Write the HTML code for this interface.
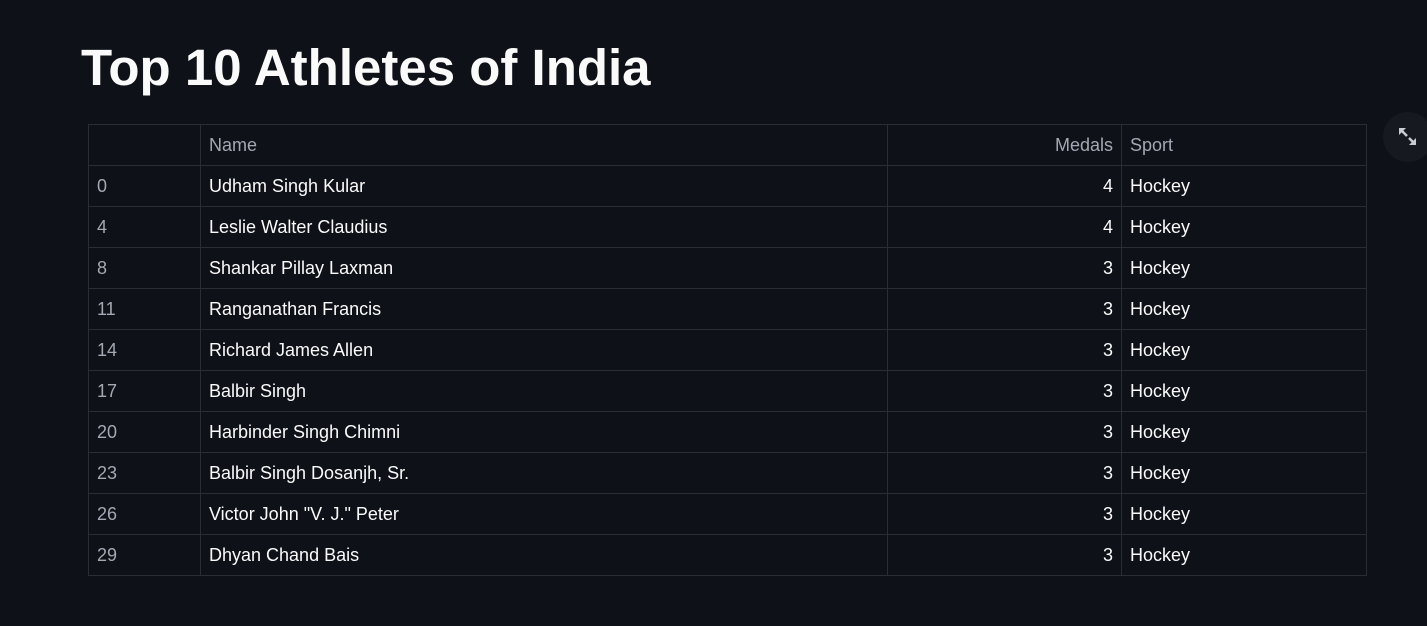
<!DOCTYPE html>
<html><head><meta charset="utf-8"><style>
body{margin:0;width:1427px;height:626px;background:#0e1117;overflow:hidden;font-family:"Liberation Sans","Noto Sans CJK SC",sans-serif;position:relative}
h1{position:absolute;left:81px;top:38px;margin:0;font-size:51px;font-weight:bold;color:#fafafa;letter-spacing:0px}
table{position:absolute;left:88px;top:124px;border-collapse:collapse;font-size:18px;color:#fafafa}
td,th{border:1px solid #2a2d35;height:40px;padding:0 8px;font-weight:normal;text-align:left;white-space:nowrap}
th{color:#a3a8b4}
td.i{color:#a3a8b4}
.r{text-align:right}
.fs{position:absolute;left:1383px;top:112px;width:50px;height:50px;border-radius:50%;background:#161920}
</style></head><body>
<h1>Top 10 Athletes of India</h1>
<table>
<colgroup><col style="width:112px"><col style="width:687px"><col style="width:234px"><col style="width:245px"></colgroup>
<tr><th></th><th>Name</th><th class="r">Medals</th><th>Sport</th></tr>
<tr><td class="i">0</td><td>Udham Singh Kular</td><td class="r">4</td><td>Hockey</td></tr>
<tr><td class="i">4</td><td>Leslie Walter Claudius</td><td class="r">4</td><td>Hockey</td></tr>
<tr><td class="i">8</td><td>Shankar Pillay Laxman</td><td class="r">3</td><td>Hockey</td></tr>
<tr><td class="i">11</td><td>Ranganathan Francis</td><td class="r">3</td><td>Hockey</td></tr>
<tr><td class="i">14</td><td>Richard James Allen</td><td class="r">3</td><td>Hockey</td></tr>
<tr><td class="i">17</td><td>Balbir Singh</td><td class="r">3</td><td>Hockey</td></tr>
<tr><td class="i">20</td><td>Harbinder Singh Chimni</td><td class="r">3</td><td>Hockey</td></tr>
<tr><td class="i">23</td><td>Balbir Singh Dosanjh, Sr.</td><td class="r">3</td><td>Hockey</td></tr>
<tr><td class="i">26</td><td>Victor John "V. J." Peter</td><td class="r">3</td><td>Hockey</td></tr>
<tr><td class="i">29</td><td>Dhyan Chand Bais</td><td class="r">3</td><td>Hockey</td></tr>
</table>
<div class="fs">
<svg width="50" height="50" viewBox="0 0 50 50"><g fill="#c8ccd4"><polygon points="16,16 23,16 16,23"/><polygon points="33,33 26,33 33,26"/></g><g stroke="#c8ccd4" stroke-width="2.5"><line x1="17" y1="17" x2="24" y2="24"/><line x1="32" y1="32" x2="26" y2="26"/></g></svg>
</div>
</body></html>
